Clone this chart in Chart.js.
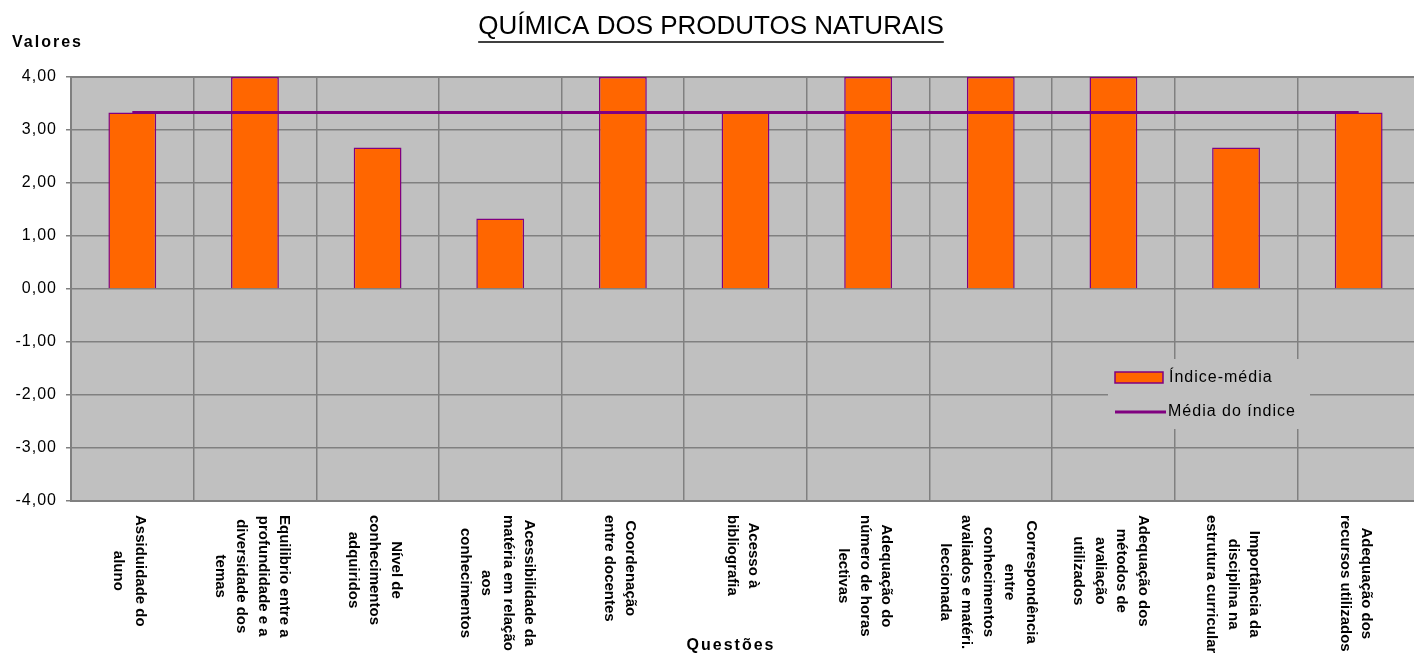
<!DOCTYPE html>
<html>
<head>
<meta charset="utf-8">
<title>Química dos Produtos Naturais</title>
<script src="https://cdn.jsdelivr.net/npm/chart.js@4/dist/chart.umd.min.js"></script>
<style>
  html, body { margin: 0; padding: 0; background: #fff; overflow: hidden; }
  #wrap { width: 1414px; height: 655px; overflow: hidden; }
</style>
</head>
<body>
<div id="wrap"><canvas id="grafico" width="1430" height="655"></canvas></div>
<script>
const titulo = "QUÍMICA DOS PRODUTOS NATURAIS";
const tituloY = "Valores";
const tituloX = "Questões";

// each question label split into the lines shown under the axis
const questoes = [
  ["Assiduidade do", "aluno"],
  ["Equilibrio entre a", "profundidade e a", "diversidade dos", "temas"],
  ["Nível de", "conhecimentos", "adquiridos"],
  ["Acessibilidade da", "matéria em relação", "aos", "conhecimentos"],
  ["Coordenação", "entre docentes"],
  ["Acesso à", "bibliografia"],
  ["Adequação do", "número de horas", "lectivas"],
  ["Correspondência", "entre", "conhecimentos", "avaliados e matéri.", "leccionada"],
  ["Adequação dos", "métodos de", "avaliação", "utilizados"],
  ["Importância da", "disciplina na", "estrutura curricular"],
  ["Adequação dos", "recursos utilizados"]
];

const indiceMedia = [3.33, 4.00, 2.67, 1.33, 4.00, 3.33, 4.00, 4.00, 4.00, 2.67, 3.33];
const mediaIndice = [3.33, 3.33, 3.33, 3.33, 3.33, 3.33, 3.33, 3.33, 3.33, 3.33, 3.33];

const yMin = -4;
const yMax = 4;

const FONTE = "'Liberation Sans', Arial, sans-serif";
const LARANJA = "#FF6600";
const ROXO = "#800080";
const CINZA = "#C0C0C0";
const GRELHA = "#808080";

const fundoPlugin = {
  id: "fundo",
  beforeDraw(chart) {
    const { ctx, chartArea: a } = chart;
    ctx.letterSpacing = "1px";
    ctx.save();
    ctx.fillStyle = CINZA;
    ctx.fillRect(a.left, a.top, a.right - a.left, a.bottom - a.top);
    ctx.restore();
  },
  beforeDatasetsDraw(chart) {
    const { ctx, chartArea: a } = chart;
    ctx.save();
    ctx.strokeStyle = GRELHA;
    ctx.lineWidth = 2;
    ctx.strokeRect(a.left, a.top, a.right - a.left, a.bottom - a.top);
    ctx.restore();
  }
};

const textosPlugin = {
  id: "textos",
  afterDraw(chart) {
    const { ctx, scales } = chart;
    const x = scales.x;
    ctx.save();

    // title, underlined
    ctx.letterSpacing = "0px";
    ctx.font = "26px " + FONTE;
    ctx.fillStyle = "#000";
    ctx.textAlign = "center";
    ctx.textBaseline = "alphabetic";
    ctx.fillText(titulo, 711, 34);
    const w = ctx.measureText(titulo).width;
    ctx.strokeStyle = "#000";
    ctx.lineWidth = 1.5;
    ctx.beginPath();
    ctx.moveTo(711 - w / 2, 42);
    ctx.lineTo(711 + w / 2, 42);
    ctx.stroke();

    // axis titles
    ctx.letterSpacing = "2px";
    ctx.font = "bold 16px " + FONTE;
    ctx.textAlign = "left";
    ctx.fillText(tituloY, 12, 47);
    ctx.textAlign = "center";
    ctx.fillText(tituloX, 731, 650);

    // category labels, turned a quarter clockwise, first line on the right
    ctx.letterSpacing = "0px";
    ctx.font = "bold 15px " + FONTE;
    ctx.textAlign = "center";
    ctx.textBaseline = "middle";
    const passo = 21.5;
    const topo = 515;
    questoes.forEach((linhas, i) => {
      const cx = x.getPixelForValue(i) - 3;
      const maior = Math.max(...linhas.map(l => ctx.measureText(l).width));
      const cy = topo + maior / 2;
      linhas.forEach((linha, j) => {
        const lx = cx + ((linhas.length - 1) / 2 - j) * passo;
        ctx.save();
        ctx.translate(lx, cy);
        ctx.rotate(Math.PI / 2);
        ctx.fillText(linha, 0, 0);
        ctx.restore();
      });
    });

    // legend box inside the plot
    const lx0 = 1108, ly0 = 359;
    ctx.fillStyle = CINZA;
    ctx.fillRect(lx0, ly0, 202, 70);
    const dsBar = chart.data.datasets[0];
    const dsLin = chart.data.datasets[1];
    ctx.fillStyle = dsBar.backgroundColor;
    ctx.fillRect(1115, 372, 48, 11);
    ctx.strokeStyle = dsBar.borderColor;
    ctx.lineWidth = 1.5;
    ctx.strokeRect(1115, 372, 48, 11);
    ctx.strokeStyle = dsLin.borderColor;
    ctx.lineWidth = 3;
    ctx.beginPath();
    ctx.moveTo(1115, 412);
    ctx.lineTo(1166, 412);
    ctx.stroke();
    ctx.letterSpacing = "1px";
    ctx.font = "16px " + FONTE;
    ctx.fillStyle = "#000";
    ctx.textAlign = "left";
    ctx.textBaseline = "middle";
    ctx.fillText(dsBar.label, 1169, 378);
    ctx.fillText(dsLin.label, 1168, 412);

    ctx.restore();
  }
};

new Chart(document.getElementById("grafico"), {
  type: "bar",
  data: {
    labels: questoes,
    datasets: [
      {
        type: "bar",
        label: "Índice-média",
        data: indiceMedia,
        backgroundColor: LARANJA,
        borderColor: ROXO,
        borderWidth: 1.5,
        barPercentage: 0.39,
        categoryPercentage: 1,
        order: 1
      },
      {
        type: "line",
        label: "Média do índice",
        data: mediaIndice,
        borderColor: ROXO,
        backgroundColor: ROXO,
        borderWidth: 3,
        pointRadius: 0,
        fill: false,
        order: 0
      }
    ]
  },
  options: {
    responsive: false,
    animation: false,
    layout: { padding: { top: 77, right: 10, left: 0, bottom: 0 } },
    plugins: {
      legend: { display: false },
      tooltip: { enabled: false },
      title: { display: false }
    },
    scales: {
      x: {
        offset: true,
        ticks: { display: false },
        grid: { color: GRELHA, lineWidth: 1.5, offset: true, drawTicks: false },
        border: { color: GRELHA, width: 2 },
        afterFit(scale) { scale.height = 154; }
      },
      y: {
        min: yMin,
        max: yMax,
        ticks: {
          stepSize: 1,
          color: "#000",
          padding: 9,
          font: { family: FONTE, size: 16 },
          callback: v => v.toFixed(2).replace(".", ",")
        },
        grid: { color: GRELHA, lineWidth: 1.5, tickLength: 5 },
        border: { color: GRELHA, width: 2 },
        afterFit(scale) { scale.width = 71; }
      }
    }
  },
  plugins: [fundoPlugin, textosPlugin]
});
</script>
</body>
</html>
